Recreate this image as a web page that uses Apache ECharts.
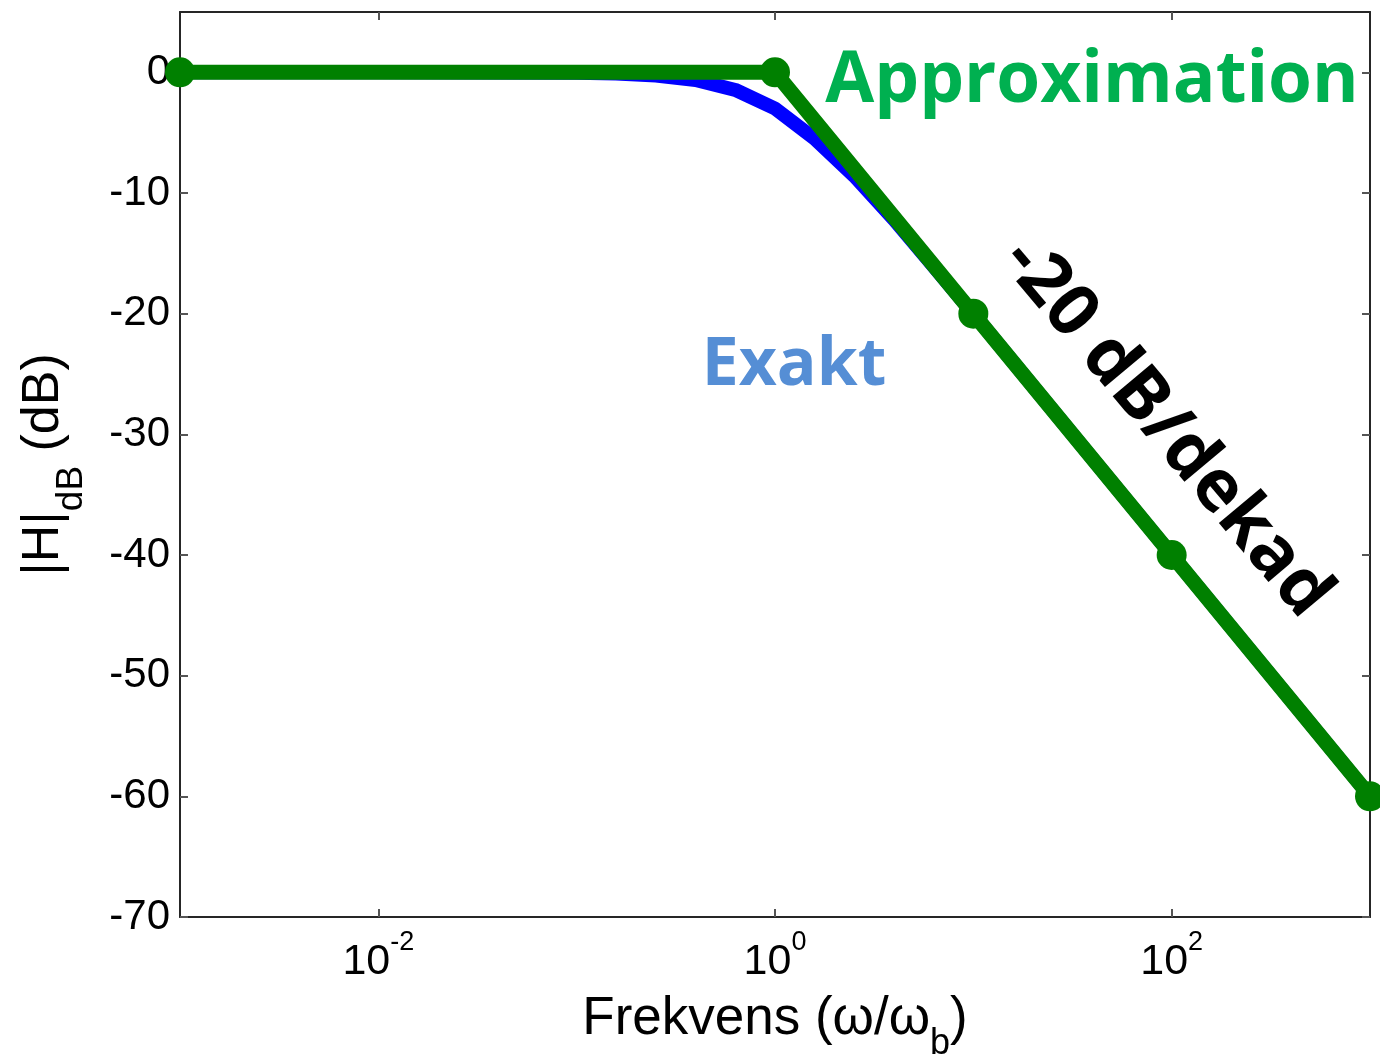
<!DOCTYPE html>
<html>
<head>
<meta charset="utf-8">
<script src="https://cdn.jsdelivr.net/npm/echarts@6/dist/echarts.min.js"></script>
<style>
  html, body { margin: 0; padding: 0; background: #fff; }
  #chart { width: 1380px; height: 1061px; }
</style>
</head>
<body>
<div id="chart"></div>
<script>
// frekvens (w/wb) och amplitud i dB
const exaktFreq = [0.001, 0.01, 0.1, 0.158, 0.251, 0.398, 0.631, 1, 1.585, 2.512, 3.981, 6.31, 10, 15.85, 25.12, 39.81, 63.1, 100, 158.5, 251.2, 398.1, 631, 1000];
const exaktDb = [0, 0, -0.04, -0.1, -0.27, -0.64, -1.46, -3.0, -5.5, -8.6, -12.2, -16.1, -20.0, -24.0, -28.0, -32.0, -36.0, -40.0, -44.0, -48.0, -52.0, -56.0, -60.0];

const approxFreq = [0.001, 1, 10, 100, 1000];
const approxDb = [0, 0, -20, -40, -60];

const xTicks = [0.01, 1, 100];
const yTicks = [-70, -60, -50, -40, -30, -20, -10, 0];

const myChart = echarts.init(document.getElementById('chart'));

const axisFont = 'Liberation Sans, Arial, sans-serif';
const noteFont = 'Open Sans, sans-serif';

// gemensamma inställningar för axlarna (ram runt hela ytan)
const xBase = {
    type: 'log',
    logBase: 10,
    min: 0.001,
    max: 1000,
    axisLine: { show: true, onZero: false, lineStyle: { color: '#262626', width: 2 } },
    axisTick: { show: true, inside: true, length: 8, customValues: xTicks, lineStyle: { color: '#555', width: 2 } },
    splitLine: { show: false },
    minorTick: { show: false }
};
const yBase = {
    type: 'value',
    min: -70,
    max: 5,
    axisLine: { show: true, onZero: false, lineStyle: { color: '#262626', width: 2 } },
    axisTick: { show: true, inside: true, length: 8, customValues: yTicks, lineStyle: { color: '#555', width: 2 } },
    splitLine: { show: false }
};

myChart.setOption({
    animation: false,
    backgroundColor: '#fff',
    grid: { left: 180, right: 10, top: 12, bottom: 144, containLabel: false, outerBoundsMode: 'none' },
    xAxis: [
        Object.assign({}, xBase, {
            position: 'bottom',
            name: '{a|Frekvens (ω/ω}{s|b}{a|)}',
            nameLocation: 'middle',
            nameGap: 72,
            nameTextStyle: {
                rich: {
                    a: { fontFamily: axisFont, fontSize: 53, color: '#000', lineHeight: 60 },
                    s: { fontFamily: axisFont, fontSize: 36, color: '#000', verticalAlign: 'bottom', padding: [0, 0, -13, 0] }
                }
            },
            axisLabel: {
                show: true,
                margin: 20,
                customValues: xTicks,
                formatter: (v) => '{b|10}{s|' + Math.round(Math.log10(v)) + '}',
                rich: {
                    b: { fontFamily: axisFont, fontSize: 43, color: '#000', lineHeight: 50 },
                    s: { fontFamily: axisFont, fontSize: 27, color: '#000', verticalAlign: 'top', padding: [-8, 0, 0, 0] }
                }
            }
        }),
        Object.assign({}, xBase, { position: 'top', axisLabel: { show: false } })
    ],
    yAxis: [
        Object.assign({}, yBase, {
            position: 'left',
            name: '{a||H|}{s|dB}{a| (dB)}',
            nameLocation: 'middle',
            nameGap: 106,
            nameTextStyle: {
                rich: {
                    a: { fontFamily: axisFont, fontSize: 52, color: '#000', lineHeight: 60 },
                    s: { fontFamily: axisFont, fontSize: 37, color: '#000', verticalAlign: 'bottom', padding: [0, 0, -16, 0] }
                }
            },
            axisLabel: {
                show: true,
                margin: 10,
                customValues: yTicks,
                fontFamily: axisFont,
                fontSize: 42,
                color: '#000'
            }
        }),
        Object.assign({}, yBase, { position: 'right', axisLabel: { show: false } })
    ],
    series: [
        {
            name: 'Exakt',
            type: 'line',
            data: exaktFreq.map((f, i) => [f, exaktDb[i]]),
            showSymbol: false,
            clip: false,
            lineStyle: { color: '#0000ff', width: 14 },
            z: 2
        },
        {
            name: 'Approximation',
            type: 'line',
            data: approxFreq.map((f, i) => [f, approxDb[i]]),
            symbol: 'circle',
            symbolSize: 30,
            clip: false,
            itemStyle: { color: '#008000' },
            lineStyle: { color: '#008000', width: 15 },
            z: 3
        }
    ],
    graphic: [
        {
            type: 'text',
            x: 1092, y: 82,
            style: { text: 'Approximation', fill: '#00b050', font: 'bold 71px ' + noteFont, align: 'center', verticalAlign: 'middle' },
            z: 10
        },
        {
            type: 'text',
            x: 794, y: 366,
            style: { text: 'Exakt', fill: '#558ed5', font: 'bold 66px ' + noteFont, align: 'center', verticalAlign: 'middle' },
            z: 10
        },
        {
            type: 'text',
            x: 1166, y: 428,
            rotation: -50 * Math.PI / 180,
            style: { text: '-20 dB/dekad', fill: '#000', font: 'bold 72px ' + noteFont, align: 'center', verticalAlign: 'middle' },
            z: 10
        }
    ]
});

window.addEventListener('resize', () => {
    myChart.resize()
})
</script>
</body>
</html>
